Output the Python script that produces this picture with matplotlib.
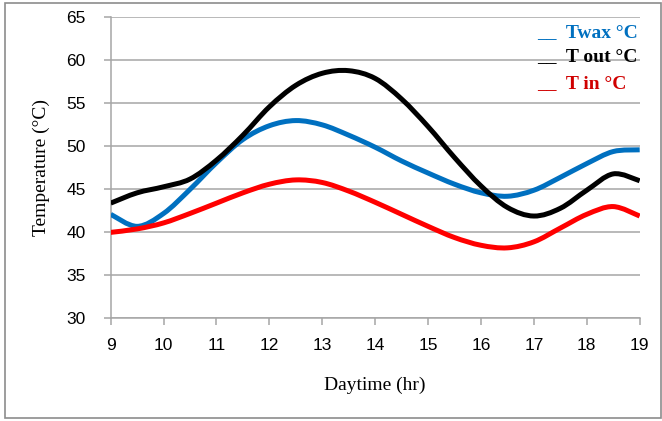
import numpy as np
import matplotlib
matplotlib.use('Agg')
import matplotlib.pyplot as plt
from matplotlib.path import Path
from matplotlib.patches import PathPatch, Rectangle

# jam (hr), langkah setengah jam
hours = [9, 9.5, 10, 10.5, 11, 11.5, 12, 12.5, 13, 13.5, 14, 14.5,
         15, 15.5, 16, 16.5, 17, 17.5, 18, 18.5, 19]

t_wax = [42.0, 40.6, 42.1, 44.9, 48.0, 50.7, 52.3, 52.9, 52.4, 51.2, 49.8, 48.2,
         46.8, 45.5, 44.5, 44.1, 44.8, 46.3, 47.9, 49.3, 49.5]
t_out = [43.3, 44.5, 45.2, 46.1, 48.3, 51.2, 54.5, 57.0, 58.4, 58.7, 57.8, 55.4,
         52.2, 48.6, 45.3, 42.8, 41.8, 42.7, 44.8, 46.7, 45.9]
t_in = [39.9, 40.3, 41.0, 42.1, 43.3, 44.5, 45.5, 46.0, 45.7, 44.7, 43.4, 42.0,
        40.6, 39.3, 38.4, 38.1, 38.8, 40.4, 42.0, 42.9, 41.8]

series_names = ['__  Twax °C', '__  T out °C', '__  T in °C']
line_colors = ['#0070C0', '#000000', '#FF0000']
label_colors = ['#0070C0', '#000000', '#D00000']


def smooth_path(x, y):
    # garis halus ala Excel (Catmull-Rom -> Bezier kubik)
    x = np.asarray(x, float)
    y = np.asarray(y, float)
    px = np.concatenate([[x[0]], x, [x[-1]]])
    py = np.concatenate([[y[0]], y, [y[-1]]])
    verts = [(x[0], y[0])]
    codes = [Path.MOVETO]
    for i in range(1, len(x)):
        c1 = (px[i] + (px[i + 1] - px[i - 1]) / 6, py[i] + (py[i + 1] - py[i - 1]) / 6)
        c2 = (px[i + 1] - (px[i + 2] - px[i]) / 6, py[i + 1] - (py[i + 2] - py[i]) / 6)
        verts += [c1, c2, (px[i + 1], py[i + 1])]
        codes += [Path.CURVE4] * 3
    return Path(verts, codes)


fig = plt.figure(figsize=(6.62, 4.21), dpi=100)
ax = fig.add_axes([0.1672, 0.2458, 0.7991, 0.715])

for ys, col in zip([t_wax, t_out, t_in], line_colors):
    ax.add_patch(PathPatch(smooth_path(hours, ys), facecolor='none',
                           edgecolor=col, lw=3.6, capstyle='butt', zorder=3))

ax.set_xlim(9, 19)
ax.set_ylim(30, 65)
ax.set_xticks(range(9, 20))
ax.set_yticks(range(30, 66, 5))
ax.grid(axis='y', color='#A6A6A6', lw=1.1)
ax.set_axisbelow(True)
for s in ['top', 'right']:
    ax.spines[s].set_visible(False)
for s in ['left', 'bottom']:
    ax.spines[s].set_color('#A6A6A6')
    ax.spines[s].set_linewidth(1.1)
ax.tick_params(colors='#A6A6A6', length=5, width=1.1, labelcolor='black',
               labelsize=12.5)
ax.tick_params(axis='y', pad=13)
ax.tick_params(axis='x', pad=10)
for lb in ax.get_xticklabels() + ax.get_yticklabels():
    lb.set_family('Liberation Sans')

ax.set_xlabel('Daytime (hr)', family='Liberation Serif', fontsize=14, labelpad=17)
ax.set_ylabel('Temperature (°C)', family='Liberation Serif', fontsize=14, labelpad=12)

# legenda manual
leg_y = [0.922, 0.866, 0.802]
for name, col, yy in zip(series_names, label_colors, leg_y):
    fig.text(0.811, yy, name, color=col, family='Liberation Serif',
             fontweight='bold', fontsize=14, va='center', ha='left')

fig.add_artist(Rectangle((0.008, 0.007), 0.99, 0.986, transform=fig.transFigure,
                         fill=False, edgecolor='#8C8C8C', lw=1.2))

plt.savefig('out.png', dpi=100)
